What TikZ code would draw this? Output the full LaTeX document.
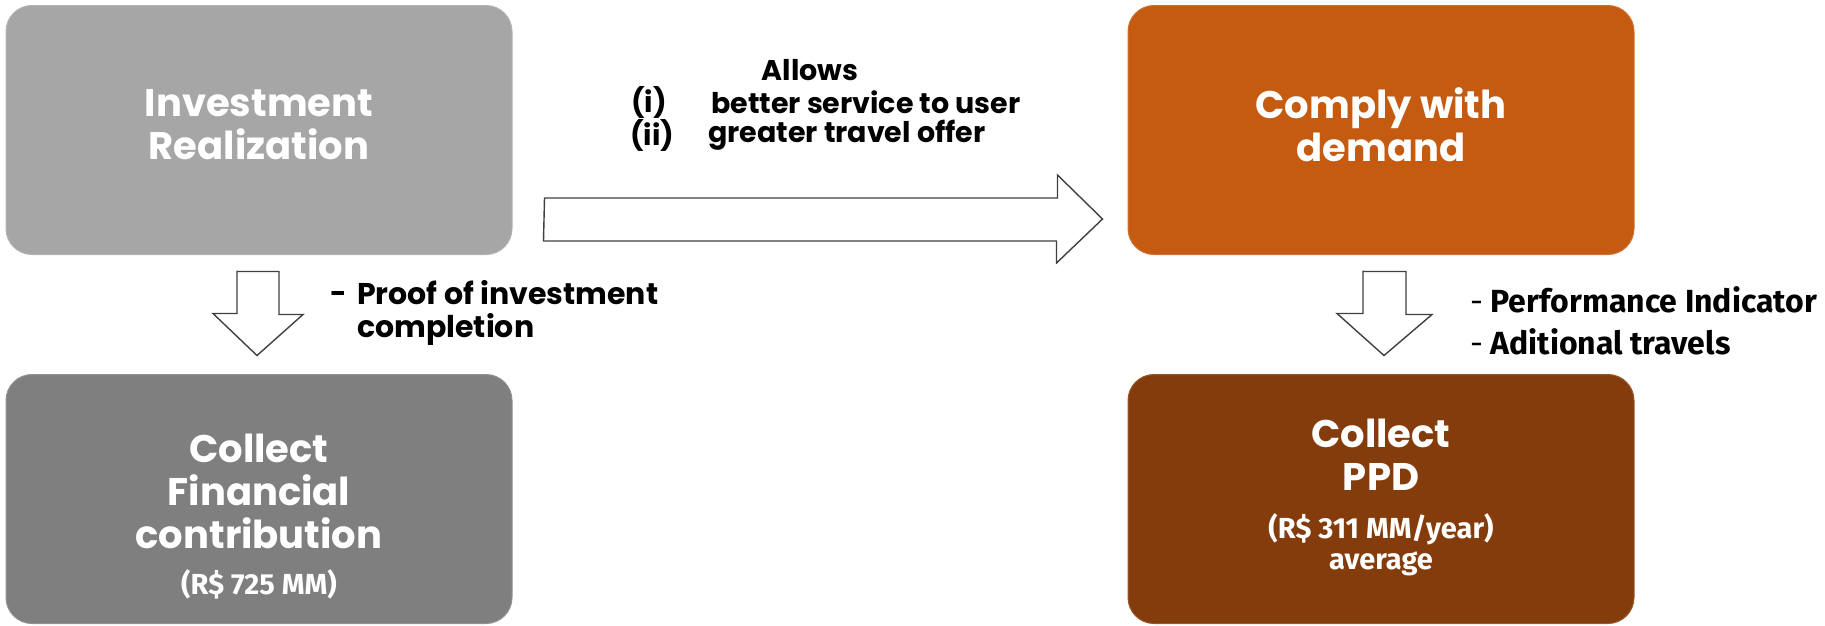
\documentclass[tikz,border=0pt]{standalone}
\usepackage{fontspec}
\usetikzlibrary{calc}
\setmainfont{Poppins}
\newfontfamily\narrowfont{Fira Sans}
\definecolor{boxlight}{HTML}{A6A6A6}
\definecolor{boxdark}{HTML}{7F7F7F}
\definecolor{boxorange}{HTML}{C55A11}
\definecolor{boxbrown}{HTML}{843C0C}
\definecolor{arrowline}{HTML}{404040}
\tikzset{
  stage/.style={rectangle, rounded corners=26pt, minimum width=506pt, minimum height=249pt, inner sep=0pt, draw=#1!85!white, line width=1pt, fill=#1},
  title/.style={text=white, font=\fontsize{38.5}{43}\selectfont\bfseries, align=center, inner sep=0pt},
  subtitle/.style={text=white, font=\narrowfont\fontsize{29}{31}\selectfont\bfseries, align=center, inner sep=0pt},
  note/.style={text=black, font=\fontsize{28.5}{33}\selectfont\bfseries, inner sep=0pt},
  sidenote/.style={text=black, font=\narrowfont\fontsize{32}{42}\selectfont\bfseries, inner sep=0pt},
  blockarrow/.style={draw=arrowline, fill=white, line width=1.4pt, line join=miter}
}
\begin{document}
\begin{tikzpicture}[x=1pt,y=-1pt]
\useasboundingbox (0,0) rectangle (1825,625);

% the four stages
\node[stage=boxlight]  (invest)  at (259,130) {};
\node[stage=boxorange] (comply)  at (1381,130) {};
\node[stage=boxdark]   (finance) at (259,499) {};
\node[stage=boxbrown]  (ppd)     at (1381,499) {};

\node[title] (investtxt) at ($(invest)+(0,-5)$) {Investment\\Realization};
\node[title] (complytxt) at ($(comply)+(0,-5)$) {Comply with\\demand};
\node[title] (financetxt) at ($(finance)+(0,-8)$) {Collect\\Financial\\contribution};
\node[subtitle] (financeval) at ($(finance)+(0,85)$) {(R\$ 725 MM)};
\node[title] (ppdtxt) at ($(ppd)+(0,-44)$) {Collect\\PPD};
\node[subtitle] (ppdval) at ($(ppd)+(0,46)$) {(R\$ 311 MM/year)\\average};

% horizontal block arrow between the upper stages
\draw[blockarrow] ($(invest.east)+(32,68)$) coordinate (ha)
  -- ++(513,0) -- ++(0,-23) -- ($(comply.west)+(-25,89)$) coordinate (hb)
  -- ++(-46,44) -- ++(0,-22) -- ++(-513,0) -- cycle;

% downward block arrows
\draw[blockarrow] ($(invest.south)+(-22,16.5)$) coordinate (la)
  -- ++(42,0) -- ++(0,43) -- ++(24,0) -- ($(finance.north)+(-2,-18.5)$) coordinate (lb)
  -- ++(-44,-42) -- ++(24,0) -- ++(0,-43) -- cycle;
\draw[blockarrow] ($(comply.south)+(-18,16.5)$) coordinate (ra)
  -- ++(43,0) -- ++(0,43) -- ++(26,0) -- ($(ppd.north)+(3,-18.5)$) coordinate (rb)
  -- ++(-47,-42) -- ++(26,0) -- ++(0,-43) -- cycle;

% labels of the horizontal arrow
\node[note] (allows) at (810,70) {Allows};
\node[note] (itemi) at (649,102) {(i)};
\node[note, anchor=west] (itemitxt) at (711,102) {better service to user};
\node[note] (itemii) at (652,135) {(ii)};
\node[note, anchor=west] (itemiitxt) at (708,135) {greater travel offer};

% labels of the downward arrows
\node[note, anchor=east] (proofdash) at (347,297) {-};
\node[note, anchor=west, align=left, font=\fontsize{30}{33}\selectfont\bfseries] (proof) at (357,313) {Proof of investment\\completion};
\node[sidenote, anchor=west, align=left] (perf) at (1470,321)
  {{\mdseries -} Performance Indicator\\{\mdseries -} Aditional travels};
\end{tikzpicture}
\end{document}
